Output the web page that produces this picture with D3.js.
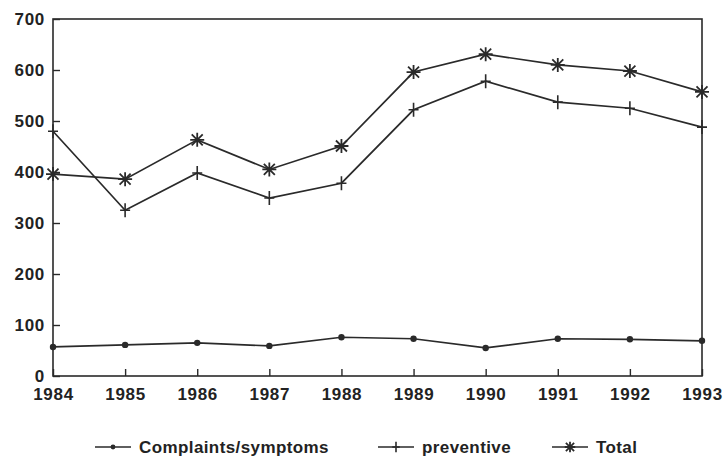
<!DOCTYPE html>
<html>
<head>
<meta charset="utf-8">
<script src="https://cdn.jsdelivr.net/npm/d3@7"></script>
<style>
body { margin: 0; background: #fff; }
text { font-family: 'Liberation Sans', Arial, sans-serif; font-weight: bold; fill: #222; }
</style>
</head>
<body>
<div id="chart"></div>
<script>
// data
var years = [1984, 1985, 1986, 1987, 1988, 1989, 1990, 1991, 1992, 1993];
var complaints = [57, 61, 65, 59, 76, 73, 55, 73, 72, 69];
var preventive = [480, 325, 398, 349, 378, 522, 578, 537, 525, 488];
var total = [396, 386, 463, 405, 451, 596, 631, 610, 598, 557];
var yTicks = [0, 100, 200, 300, 400, 500, 600, 700];
var seriesNames = ['Complaints/symptoms', 'preventive', 'Total'];

var svgWidth = 724;
var svgHeight = 460;
var margin = {top: 19, right: 22, bottom: 84, left: 53};
var width = svgWidth - margin.left - margin.right;
var height = svgHeight - margin.top - margin.bottom;
var ink = '#2a2a2a';

var svg = d3.select('#chart')
	.append('svg')
	.attr('width', svgWidth)
	.attr('height', svgHeight)
	.append('g')
	.attr('transform', 'translate(' + margin.left + ',' + margin.top + ')');

var x = d3.scaleLinear()
	.domain([1984, 1993])
	.range([0, width]);
var y = d3.scaleLinear()
	.domain([0, 700])
	.range([height, 0]);

// frame
svg.append('rect')
	.attr('width', width)
	.attr('height', height)
	.style('fill', 'none')
	.style('stroke', ink)
	.style('stroke-width', 1.6);

// x axis, ticks pointing in
var xAxis = svg.append('g')
	.attr('transform', 'translate(0,' + height + ')')
	.call(d3.axisBottom(x).tickValues(years).tickFormat(d3.format('d')).tickSizeInner(-7).tickSizeOuter(0).tickPadding(4));
xAxis.select('.domain').remove();
xAxis.selectAll('line').style('stroke', ink).style('stroke-width', 1.4);
xAxis.selectAll('text')
	.style('font-size', '17px')
	.style('letter-spacing', '0.7px')
	.style('fill', '#222')
	.attr('dy', '1.2em');

// y axis, ticks pointing in
var yAxis = svg.append('g')
	.call(d3.axisLeft(y).tickValues(yTicks).tickSizeInner(-7).tickSizeOuter(0).tickPadding(8));
yAxis.select('.domain').remove();
yAxis.selectAll('line').style('stroke', ink).style('stroke-width', 1.4);
yAxis.selectAll('text')
	.style('font-size', '17px')
	.style('letter-spacing', '0.7px')
	.style('fill', '#222');
yAxis.selectAll('.tick').filter(d => d === 0).select('text').attr('dy', '0.3em');

var line = d3.line()
	.x((d, i) => x(years[i]))
	.y(d => y(d));

function drawMarker(g, kind, cx, cy, s) {
	if (kind === 'dot') {
		g.append('circle').attr('cx', cx).attr('cy', cy).attr('r', 3.2 * s).style('fill', ink);
	} else if (kind === 'plus') {
		g.append('path')
			.attr('d', 'M' + cx + ',' + (cy - 7 * s) + 'V' + (cy + 7 * s) + 'M' + (cx - 5 * s) + ',' + cy + 'H' + (cx + 5 * s))
			.style('stroke', ink).style('stroke-width', 1.6);
	} else {
		var r = 7 * s, d = 5.5 * s;
		g.append('path')
			.attr('d', 'M' + cx + ',' + (cy - r) + 'V' + (cy + r) +
				'M' + (cx - r) + ',' + cy + 'H' + (cx + r) +
				'M' + (cx - d) + ',' + (cy - d) + 'L' + (cx + d) + ',' + (cy + d) +
				'M' + (cx - d) + ',' + (cy + d) + 'L' + (cx + d) + ',' + (cy - d))
			.style('stroke', ink).style('stroke-width', 1.8);
	}
}

var series = [
	{name: seriesNames[0], values: complaints, marker: 'dot'},
	{name: seriesNames[1], values: preventive, marker: 'plus'},
	{name: seriesNames[2], values: total, marker: 'star'}
];

series.forEach(function (s) {
	svg.append('path')
		.datum(s.values)
		.attr('d', line)
		.style('fill', 'none')
		.style('stroke', ink)
		.style('stroke-width', 1.7);
	var mg = svg.append('g');
	s.values.forEach(function (v, i) {
		drawMarker(mg, s.marker, x(years[i]), y(v), 1);
	});
});

// legend
var legendX = [95, 378, 552];
var legend = d3.select('svg').append('g');
series.forEach(function (s, i) {
	var lx = legendX[i], ly = 447;
	legend.append('line')
		.attr('x1', lx).attr('x2', lx + 36)
		.attr('y1', ly).attr('y2', ly)
		.style('stroke', ink).style('stroke-width', 1.7);
	drawMarker(legend, s.marker, lx + 18, ly, 0.75);
	legend.append('text')
		.attr('x', lx + 44)
		.attr('y', ly)
		.attr('dy', '0.36em')
		.style('font-size', '17px')
		.style('letter-spacing', '0.4px')
		.text(s.name);
});
</script>
</body>
</html>
